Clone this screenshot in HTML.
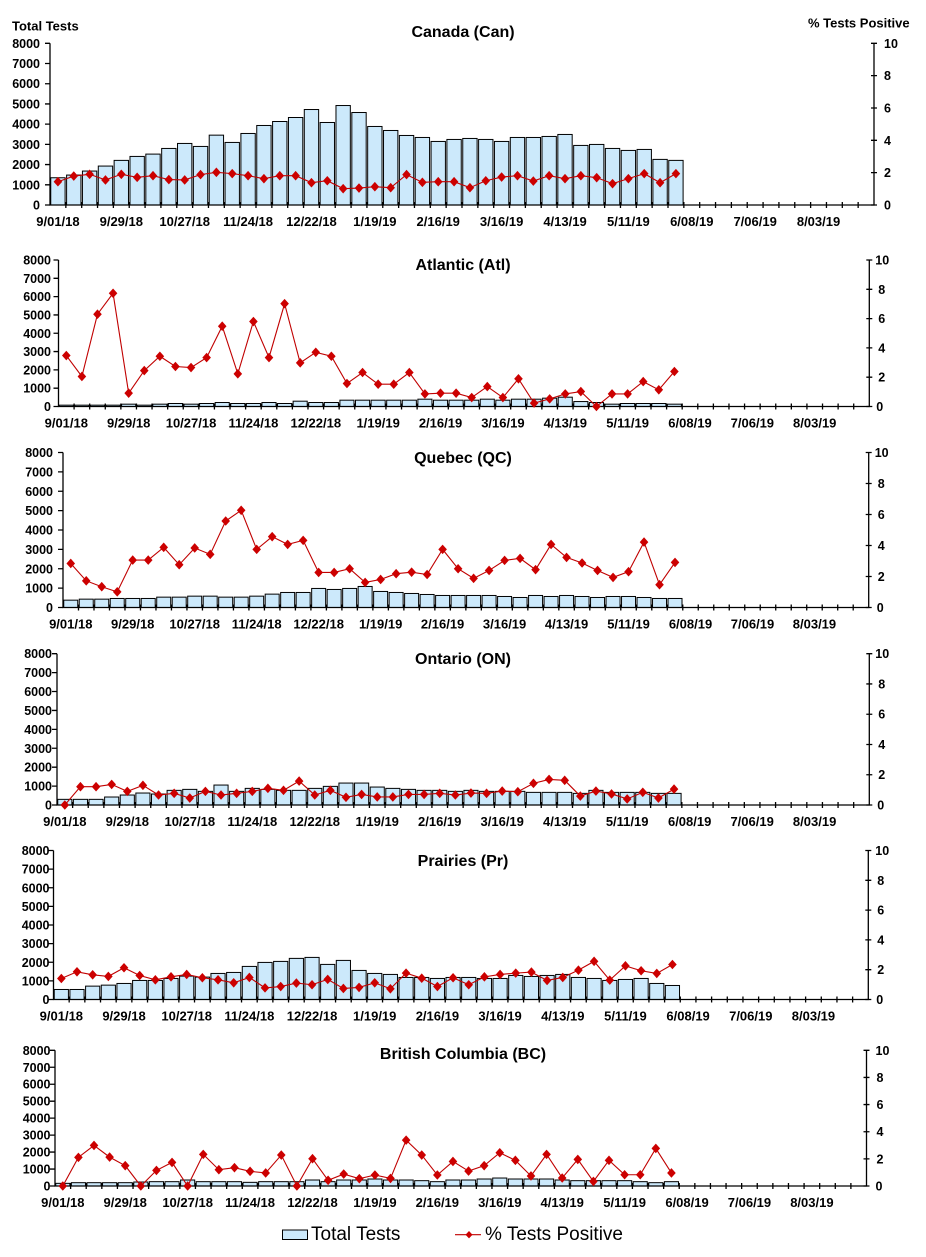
<!DOCTYPE html>
<html><head><meta charset="utf-8">
<style>
html,body{margin:0;padding:0;background:#fff;}
svg{display:block;}
text{font-family:"Liberation Sans",Arial,sans-serif;font-weight:bold;fill:#000;}
.yl text,.yr text{font-size:12.5px;}
.xl text{font-size:13px;}
.ttl{font-size:16px;}
.lg{font-weight:normal;font-size:19px;}
</style></head>
<body>
<svg id="root" xmlns="http://www.w3.org/2000/svg" width="926" height="1257" viewBox="0 0 926 1257">
<rect width="926" height="1257" fill="#fff"/>
<g id="plots"></g>

<text x="12" y="30.7" style="font-size:13px">Total Tests</text>
<text x="808" y="27.3" style="font-size:13px">% Tests Positive</text>

<text class="ttl" x="463" y="37" text-anchor="middle">Canada (Can)</text>
<text class="ttl" x="463" y="270" text-anchor="middle">Atlantic (Atl)</text>
<text class="ttl" x="463" y="463" text-anchor="middle">Quebec (QC)</text>
<text class="ttl" x="463" y="664" text-anchor="middle">Ontario (ON)</text>
<text class="ttl" x="463" y="866" text-anchor="middle">Prairies (Pr)</text>
<text class="ttl" x="463" y="1059" text-anchor="middle">British Columbia (BC)</text>

<!-- Canada -->
<svg x="50" y="43.3" width="824" height="161.7" overflow="visible">
<g class="yl" text-anchor="end">
<text x="-10" y="100%" dy="4.5">0</text><text x="-10" y="87.5%" dy="4.5">1000</text><text x="-10" y="75%" dy="4.5">2000</text><text x="-10" y="62.5%" dy="4.5">3000</text><text x="-10" y="50%" dy="4.5">4000</text><text x="-10" y="37.5%" dy="4.5">5000</text><text x="-10" y="25%" dy="4.5">6000</text><text x="-10" y="12.5%" dy="4.5">7000</text><text x="-10" y="0%" dy="4.5">8000</text>
</g>
<g class="yr">
<text x="100%" dx="10" y="100%" dy="4.5">0</text><text x="100%" dx="10" y="80%" dy="4.5">2</text><text x="100%" dx="10" y="60%" dy="4.5">4</text><text x="100%" dx="10" y="40%" dy="4.5">6</text><text x="100%" dx="10" y="20%" dy="4.5">8</text><text x="100%" dx="10" y="0%" dy="4.5">10</text>
</g>
<g class="xl" text-anchor="middle">
<text x="0.9615%" y="100%" dy="21">9/01/18</text><text x="8.654%" y="100%" dy="21">9/29/18</text><text x="16.346%" y="100%" dy="21">10/27/18</text><text x="24.038%" y="100%" dy="21">11/24/18</text><text x="31.731%" y="100%" dy="21">12/22/18</text><text x="39.423%" y="100%" dy="21">1/19/19</text><text x="47.115%" y="100%" dy="21">2/16/19</text><text x="54.808%" y="100%" dy="21">3/16/19</text><text x="62.5%" y="100%" dy="21">4/13/19</text><text x="70.192%" y="100%" dy="21">5/11/19</text><text x="77.885%" y="100%" dy="21">6/08/19</text><text x="85.577%" y="100%" dy="21">7/06/19</text><text x="93.269%" y="100%" dy="21">8/03/19</text>
</g>
</svg>

<!-- Atlantic -->
<svg x="58.5" y="260" width="810.8" height="146.5" overflow="visible">
<g class="yl" text-anchor="end">
<text x="-7.5" y="100%" dy="4.5">0</text><text x="-7.5" y="87.5%" dy="4.5">1000</text><text x="-7.5" y="75%" dy="4.5">2000</text><text x="-7.5" y="62.5%" dy="4.5">3000</text><text x="-7.5" y="50%" dy="4.5">4000</text><text x="-7.5" y="37.5%" dy="4.5">5000</text><text x="-7.5" y="25%" dy="4.5">6000</text><text x="-7.5" y="12.5%" dy="4.5">7000</text><text x="-7.5" y="0%" dy="4.5">8000</text>
</g>
<g class="yr">
<text x="100%" dx="7" y="100%" dy="4.5">0</text><text x="100%" dx="9" y="80%" dy="4.5">2</text><text x="100%" dx="9" y="60%" dy="4.5">4</text><text x="100%" dx="9" y="40%" dy="4.5">6</text><text x="100%" dx="9" y="20%" dy="4.5">8</text><text x="100%" dx="6" y="0%" dy="4.5">10</text>
</g>
<g class="xl" text-anchor="middle">
<text x="0.9615%" y="100%" dy="21">9/01/18</text><text x="8.654%" y="100%" dy="21">9/29/18</text><text x="16.346%" y="100%" dy="21">10/27/18</text><text x="24.038%" y="100%" dy="21">11/24/18</text><text x="31.731%" y="100%" dy="21">12/22/18</text><text x="39.423%" y="100%" dy="21">1/19/19</text><text x="47.115%" y="100%" dy="21">2/16/19</text><text x="54.808%" y="100%" dy="21">3/16/19</text><text x="62.5%" y="100%" dy="21">4/13/19</text><text x="70.192%" y="100%" dy="21">5/11/19</text><text x="77.885%" y="100%" dy="21">6/08/19</text><text x="85.577%" y="100%" dy="21">7/06/19</text><text x="93.269%" y="100%" dy="21">8/03/19</text>
</g>
</svg>

<!-- Quebec -->
<svg x="63" y="452.5" width="805.7" height="155" overflow="visible">
<g class="yl" text-anchor="end">
<text x="-10" y="100%" dy="4.5">0</text><text x="-10" y="87.5%" dy="4.5">1000</text><text x="-10" y="75%" dy="4.5">2000</text><text x="-10" y="62.5%" dy="4.5">3000</text><text x="-10" y="50%" dy="4.5">4000</text><text x="-10" y="37.5%" dy="4.5">5000</text><text x="-10" y="25%" dy="4.5">6000</text><text x="-10" y="12.5%" dy="4.5">7000</text><text x="-10" y="0%" dy="4.5">8000</text>
</g>
<g class="yr">
<text x="100%" dx="8" y="100%" dy="4.5">0</text><text x="100%" dx="9" y="80%" dy="4.5">2</text><text x="100%" dx="9" y="60%" dy="4.5">4</text><text x="100%" dx="9" y="40%" dy="4.5">6</text><text x="100%" dx="9" y="20%" dy="4.5">8</text><text x="100%" dx="6" y="0%" dy="4.5">10</text>
</g>
<g class="xl" text-anchor="middle">
<text x="0.9615%" y="100%" dy="21">9/01/18</text><text x="8.654%" y="100%" dy="21">9/29/18</text><text x="16.346%" y="100%" dy="21">10/27/18</text><text x="24.038%" y="100%" dy="21">11/24/18</text><text x="31.731%" y="100%" dy="21">12/22/18</text><text x="39.423%" y="100%" dy="21">1/19/19</text><text x="47.115%" y="100%" dy="21">2/16/19</text><text x="54.808%" y="100%" dy="21">3/16/19</text><text x="62.5%" y="100%" dy="21">4/13/19</text><text x="70.192%" y="100%" dy="21">5/11/19</text><text x="77.885%" y="100%" dy="21">6/08/19</text><text x="85.577%" y="100%" dy="21">7/06/19</text><text x="93.269%" y="100%" dy="21">8/03/19</text>
</g>
</svg>

<!-- Ontario -->
<svg x="57" y="653.7" width="812.3" height="151.3" overflow="visible">
<g class="yl" text-anchor="end">
<text x="-5" y="100%" dy="4.5">0</text><text x="-5" y="87.5%" dy="4.5">1000</text><text x="-5" y="75%" dy="4.5">2000</text><text x="-5" y="62.5%" dy="4.5">3000</text><text x="-5" y="50%" dy="4.5">4000</text><text x="-5" y="37.5%" dy="4.5">5000</text><text x="-5" y="25%" dy="4.5">6000</text><text x="-5" y="12.5%" dy="4.5">7000</text><text x="-5" y="0%" dy="4.5">8000</text>
</g>
<g class="yr">
<text x="100%" dx="8" y="100%" dy="4.5">0</text><text x="100%" dx="9" y="80%" dy="4.5">2</text><text x="100%" dx="9" y="60%" dy="4.5">4</text><text x="100%" dx="9" y="40%" dy="4.5">6</text><text x="100%" dx="9" y="20%" dy="4.5">8</text><text x="100%" dx="6" y="0%" dy="4.5">10</text>
</g>
<g class="xl" text-anchor="middle">
<text x="0.9615%" y="100%" dy="21">9/01/18</text><text x="8.654%" y="100%" dy="21">9/29/18</text><text x="16.346%" y="100%" dy="21">10/27/18</text><text x="24.038%" y="100%" dy="21">11/24/18</text><text x="31.731%" y="100%" dy="21">12/22/18</text><text x="39.423%" y="100%" dy="21">1/19/19</text><text x="47.115%" y="100%" dy="21">2/16/19</text><text x="54.808%" y="100%" dy="21">3/16/19</text><text x="62.5%" y="100%" dy="21">4/13/19</text><text x="70.192%" y="100%" dy="21">5/11/19</text><text x="77.885%" y="100%" dy="21">6/08/19</text><text x="85.577%" y="100%" dy="21">7/06/19</text><text x="93.269%" y="100%" dy="21">8/03/19</text>
</g>
</svg>

<!-- Prairies -->
<svg x="53.5" y="850.5" width="814.8" height="149" overflow="visible">
<g class="yl" text-anchor="end">
<text x="-4" y="100%" dy="4.5">0</text><text x="-4" y="87.5%" dy="4.5">1000</text><text x="-4" y="75%" dy="4.5">2000</text><text x="-4" y="62.5%" dy="4.5">3000</text><text x="-4" y="50%" dy="4.5">4000</text><text x="-4" y="37.5%" dy="4.5">5000</text><text x="-4" y="25%" dy="4.5">6000</text><text x="-4" y="12.5%" dy="4.5">7000</text><text x="-4" y="0%" dy="4.5">8000</text>
</g>
<g class="yr">
<text x="100%" dx="8" y="100%" dy="4.5">0</text><text x="100%" dx="9" y="80%" dy="4.5">2</text><text x="100%" dx="9" y="60%" dy="4.5">4</text><text x="100%" dx="9" y="40%" dy="4.5">6</text><text x="100%" dx="9" y="20%" dy="4.5">8</text><text x="100%" dx="7" y="0%" dy="4.5">10</text>
</g>
<g class="xl" text-anchor="middle">
<text x="0.9615%" y="100%" dy="21">9/01/18</text><text x="8.654%" y="100%" dy="21">9/29/18</text><text x="16.346%" y="100%" dy="21">10/27/18</text><text x="24.038%" y="100%" dy="21">11/24/18</text><text x="31.731%" y="100%" dy="21">12/22/18</text><text x="39.423%" y="100%" dy="21">1/19/19</text><text x="47.115%" y="100%" dy="21">2/16/19</text><text x="54.808%" y="100%" dy="21">3/16/19</text><text x="62.5%" y="100%" dy="21">4/13/19</text><text x="70.192%" y="100%" dy="21">5/11/19</text><text x="77.885%" y="100%" dy="21">6/08/19</text><text x="85.577%" y="100%" dy="21">7/06/19</text><text x="93.269%" y="100%" dy="21">8/03/19</text>
</g>
</svg>

<!-- British Columbia -->
<svg x="55" y="1050.3" width="811.5" height="135.7" overflow="visible">
<g class="yl" text-anchor="end">
<text x="-4.5" y="100%" dy="4.5">0</text><text x="-4.5" y="87.5%" dy="4.5">1000</text><text x="-4.5" y="75%" dy="4.5">2000</text><text x="-4.5" y="62.5%" dy="4.5">3000</text><text x="-4.5" y="50%" dy="4.5">4000</text><text x="-4.5" y="37.5%" dy="4.5">5000</text><text x="-4.5" y="25%" dy="4.5">6000</text><text x="-4.5" y="12.5%" dy="4.5">7000</text><text x="-4.5" y="0%" dy="4.5">8000</text>
</g>
<g class="yr">
<text x="100%" dx="9" y="100%" dy="4.5">0</text><text x="100%" dx="10" y="80%" dy="4.5">2</text><text x="100%" dx="10" y="60%" dy="4.5">4</text><text x="100%" dx="10" y="40%" dy="4.5">6</text><text x="100%" dx="10" y="20%" dy="4.5">8</text><text x="100%" dx="9" y="0%" dy="4.5">10</text>
</g>
<g class="xl" text-anchor="middle">
<text x="0.9615%" y="100%" dy="21">9/01/18</text><text x="8.654%" y="100%" dy="21">9/29/18</text><text x="16.346%" y="100%" dy="21">10/27/18</text><text x="24.038%" y="100%" dy="21">11/24/18</text><text x="31.731%" y="100%" dy="21">12/22/18</text><text x="39.423%" y="100%" dy="21">1/19/19</text><text x="47.115%" y="100%" dy="21">2/16/19</text><text x="54.808%" y="100%" dy="21">3/16/19</text><text x="62.5%" y="100%" dy="21">4/13/19</text><text x="70.192%" y="100%" dy="21">5/11/19</text><text x="77.885%" y="100%" dy="21">6/08/19</text><text x="85.577%" y="100%" dy="21">7/06/19</text><text x="93.269%" y="100%" dy="21">8/03/19</text>
</g>
</svg>

<!-- Legend -->
<rect x="282.5" y="1230" width="25" height="9.5" fill="#cce9fb" stroke="#000" stroke-width="1"/>
<text class="lg" x="311" y="1240">Total Tests</text>
<line x1="455" y1="1234.7" x2="481" y2="1234.7" stroke="#c00000" stroke-width="1.2"/>
<path d="M469,1231 L472.5,1234.7 L469,1238.4 L465.5,1234.7 Z" fill="#cc0000"/>
<text class="lg" x="485" y="1240">% Tests Positive</text>
</svg>

<script>
(function(){
var NS='http://www.w3.org/2000/svg';
var g=document.getElementById('plots');
function el(n,a){var e=document.createElementNS(NS,n);for(var k in a)e.setAttribute(k,a[k]);g.appendChild(e);return e;}
var D=[
{L:50,R:874,T:43.3,B:205,
bars:[1348,1481,1679,1926,2207,2403,2518,2798,3045,2897,3456,3095,3539,3934,4131,4329,4724,4082,4921,4576,3885,3687,3440,3341,3144,3243,3292,3243,3144,3341,3341,3391,3490,2947,2996,2798,2700,2749,2256,2207],
pct:[1.44,1.79,1.90,1.55,1.90,1.71,1.81,1.57,1.55,1.88,2.02,1.94,1.81,1.63,1.81,1.81,1.38,1.50,1.01,1.05,1.13,1.07,1.88,1.40,1.44,1.44,1.07,1.50,1.73,1.81,1.48,1.81,1.63,1.81,1.69,1.32,1.63,1.94,1.38,1.94]},
{L:58.5,R:869.3,T:260,B:406.5,
bars:[73,73,73,73,127,73,127,164,127,164,218,164,164,218,164,290,218,218,345,345,345,345,345,400,345,345,345,400,345,400,400,455,509,270,218,127,164,164,164,127],
pct:[3.48,2.05,6.30,7.73,0.91,2.45,3.43,2.73,2.66,3.34,5.48,2.23,5.80,3.34,7.02,2.98,3.70,3.43,1.57,2.32,1.52,1.52,2.32,0.86,0.91,0.91,0.61,1.36,0.61,1.89,0.23,0.52,0.86,1.02,0,0.86,0.86,1.70,1.14,2.39]},
{L:63,R:868.7,T:452.5,B:607.5,
bars:[379,431,431,466,466,466,534,534,586,586,534,534,586,690,776,776,983,931,983,1086,828,776,724,672,621,621,621,621,569,517,621,569,621,569,517,569,569,517,466,466],
pct:[2.84,1.72,1.34,1.01,3.06,3.06,3.88,2.76,3.84,3.43,5.58,6.27,3.75,4.57,4.07,4.33,2.26,2.26,2.50,1.62,1.81,2.18,2.28,2.13,3.75,2.50,1.88,2.39,3.04,3.17,2.44,4.07,3.23,2.87,2.39,1.94,2.31,4.22,1.47,2.91]},
{L:57,R:869.3,T:653.7,B:805,
bars:[299,299,299,422,527,633,580,774,826,721,1055,721,879,826,774,774,879,985,1160,1160,949,879,826,774,774,721,774,721,721,721,668,668,668,615,774,668,668,668,615,615],
pct:[0,1.21,1.21,1.36,0.90,1.30,0.66,0.77,0.46,0.90,0.66,0.77,0.90,1.10,0.97,1.58,0.66,0.97,0.51,0.70,0.53,0.53,0.70,0.70,0.77,0.66,0.79,0.77,0.92,0.88,1.43,1.69,1.63,0.59,0.92,0.73,0.40,0.84,0.46,1.05]},
{L:53.5,R:868.3,T:850.5,B:999.5,
bars:[538,538,718,771,861,1023,1023,1130,1256,1202,1399,1453,1776,1991,2045,2207,2260,1884,2099,1561,1399,1346,1184,1184,1130,1184,1184,1130,1130,1292,1238,1292,1346,1184,1130,1023,1076,1130,861,753],
pct:[1.41,1.86,1.66,1.55,2.13,1.61,1.32,1.52,1.68,1.46,1.32,1.12,1.48,0.78,0.87,1.10,0.99,1.35,0.74,0.81,1.12,0.72,1.77,1.43,0.87,1.46,0.99,1.52,1.68,1.77,1.84,1.28,1.48,1.97,2.56,1.30,2.26,1.93,1.75,2.35]},
{L:55,R:866.5,T:1050.3,B:1186,
bars:[157,196,196,196,196,235,255,255,353,255,255,255,216,255,255,255,353,255,353,353,412,353,353,314,255,353,353,412,470,412,412,412,353,314,314,314,314,255,196,255],
pct:[0,2.11,2.99,2.13,1.50,0,1.15,1.74,0,2.33,1.20,1.35,1.08,0.96,2.28,0,2.01,0.42,0.88,0.54,0.81,0.56,3.38,2.28,0.81,1.81,1.10,1.50,2.45,1.89,0.74,2.33,0.59,1.96,0.34,1.89,0.83,0.83,2.77,0.96]}
];
D.forEach(function(p){
  var bw=(p.R-p.L)/52,h=p.B-p.T;
  p.bars.forEach(function(v,i){
    var y=p.B-v/8000*h;
    el('rect',{x:(p.L+i*bw+0.75).toFixed(2),y:y.toFixed(2),width:(bw-1.5).toFixed(2),height:(p.B-y).toFixed(2),fill:'#cce9fb',stroke:'#000','stroke-width':1});
  });
  el('path',{d:'M'+p.L+','+p.T+'V'+p.B+'H'+p.R+'V'+p.T,fill:'none',stroke:'#000','stroke-width':1.3});
  var d='';
  for(var k=0;k<=8;k++){var y=p.T+h*k/8;d+='M'+(p.L-5)+','+y.toFixed(2)+'H'+p.L;}
  for(var k=0;k<=5;k++){var y=p.T+h*k/5;d+='M'+(p.R-3)+','+y.toFixed(2)+'H'+(p.R+3);}
  for(var i=1;i<52;i++){var x=p.L+i*bw;d+='M'+x.toFixed(2)+','+(p.B-3)+'V'+(p.B+3);}
  el('path',{d:d,stroke:'#000','stroke-width':1.3,fill:'none'});
  var pts=p.pct.map(function(v,i){return [p.L+(i+0.5)*bw,p.B-v/10*h];});
  el('polyline',{points:pts.map(function(q){return q[0].toFixed(2)+','+q[1].toFixed(2);}).join(' '),fill:'none',stroke:'#c00000','stroke-width':1.1});
  pts.forEach(function(q){
    var x=q[0],y=q[1];
    el('path',{d:'M'+x.toFixed(2)+','+(y-4.8).toFixed(2)+'L'+(x+4.3).toFixed(2)+','+y.toFixed(2)+'L'+x.toFixed(2)+','+(y+4.8).toFixed(2)+'L'+(x-4.3).toFixed(2)+','+y.toFixed(2)+'Z',fill:'#cc0000'});
  });
});
})();
</script>
</body></html>
